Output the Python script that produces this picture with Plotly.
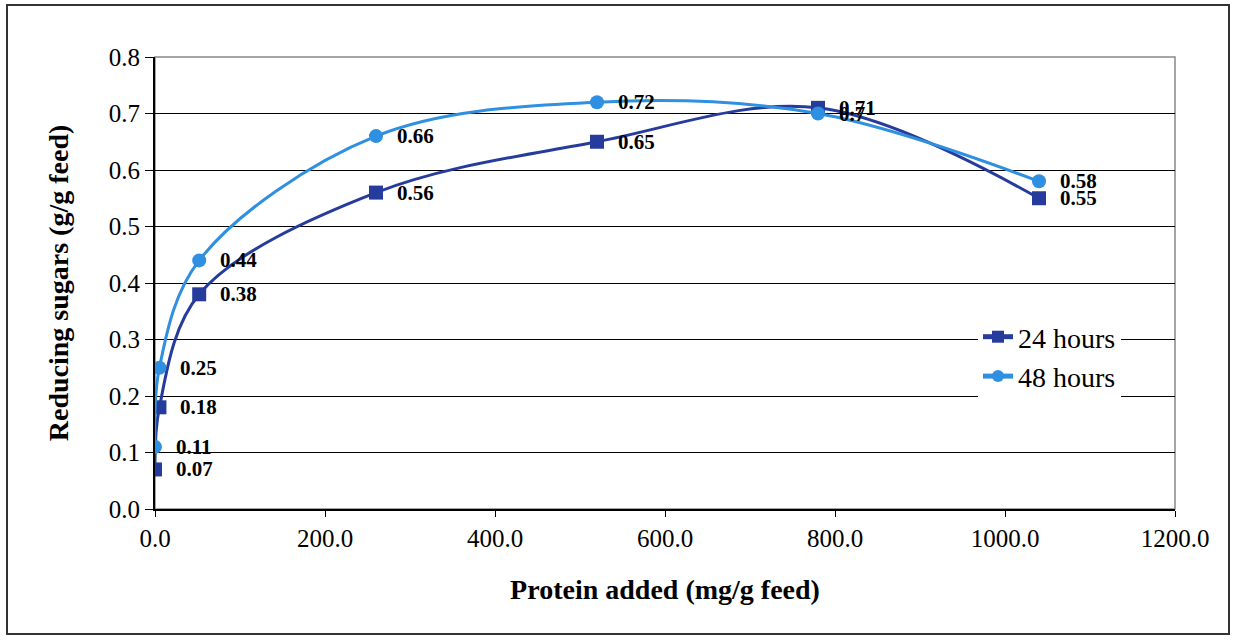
import plotly.graph_objects as go

protein = [0, 5.2, 52, 260, 520, 780, 1040]
sugars_24h = [0.07, 0.18, 0.38, 0.56, 0.65, 0.71, 0.55]
sugars_48h = [0.11, 0.25, 0.44, 0.66, 0.72, 0.70, 0.58]
labels_24h = ["0.07", "0.18", "0.38", "0.56", "0.65", "0.71", "0.55"]
labels_48h = ["0.11", "0.25", "0.44", "0.66", "0.72", "0.7", "0.58"]

C24 = "#263c9c"
C48 = "#2f8fe0"
SERIF = "Liberation Serif"

fig = go.Figure()
fig.add_trace(go.Scatter(
    x=protein, y=sugars_24h, name="24 hours", mode="lines+markers",
    line=dict(color=C24, width=3, shape="spline", smoothing=1),
    marker=dict(symbol="square", size=14, color=C24),
))
fig.add_trace(go.Scatter(
    x=protein, y=sugars_48h, name="48 hours", mode="lines+markers",
    line=dict(color=C48, width=3, shape="spline", smoothing=1),
    marker=dict(symbol="circle", size=14, color=C48),
))

for xs, ys, labs in ((protein, sugars_24h, labels_24h), (protein, sugars_48h, labels_48h)):
    for xv, yv, t in zip(xs, ys, labs):
        fig.add_annotation(x=xv, y=yv, text="<b>%s</b>" % t, showarrow=False,
                           xanchor="left", yanchor="middle", xshift=19,
                           font=dict(family=SERIF, size=21, color="black"))

L, R, T, B = 155, 1175, 57, 509
W, H = 1235, 640

def px_x(p):
    return (p - L) / (R - L)

def px_y(p):
    return (B - p) / (B - T)

fig.add_shape(type="rect", xref="paper", yref="paper",
              x0=px_x(7), x1=px_x(1229), y0=px_y(634), y1=px_y(5),
              line=dict(color="#333", width=2), layer="below")

fig.update_layout(
    width=W, height=H,
    margin=dict(l=L, r=W - R, t=T, b=H - B),
    paper_bgcolor="white", plot_bgcolor="white",
    font=dict(family=SERIF, size=25, color="black"),
    showlegend=True,
    legend=dict(x=px_x(978), y=px_y(312), xanchor="left", yanchor="top",
                bgcolor="white", font=dict(family=SERIF, size=28),
                tracegroupgap=0, itemsizing="constant"),
)
fig.update_xaxes(range=[0, 1200], dtick=200, tick0=0, tickformat=".1f",
                 showgrid=False, zeroline=False,
                 showline=True, linecolor="black", linewidth=2, mirror=False,
                 ticks="outside", ticklen=6, tickcolor="black",
                 title=dict(text="<b>Protein added (mg/g feed)</b>",
                            font=dict(family=SERIF, size=28), standoff=28))
fig.update_yaxes(range=[0, 0.8], dtick=0.1, tick0=0, tickformat=".1f",
                 showgrid=True, gridcolor="black", gridwidth=1, zeroline=False,
                 showline=True, linecolor="black", linewidth=2,
                 ticks="outside", ticklen=8, tickcolor="black",
                 title=dict(text="<b>Reducing sugars (g/g feed)</b>",
                            font=dict(family=SERIF, size=28), standoff=32))
fig.add_shape(type="rect", xref="paper", yref="paper", x0=0, x1=1, y0=0, y1=1,
              line=dict(color="#888", width=1.5), layer="below")

fig.write_html("out.html")
